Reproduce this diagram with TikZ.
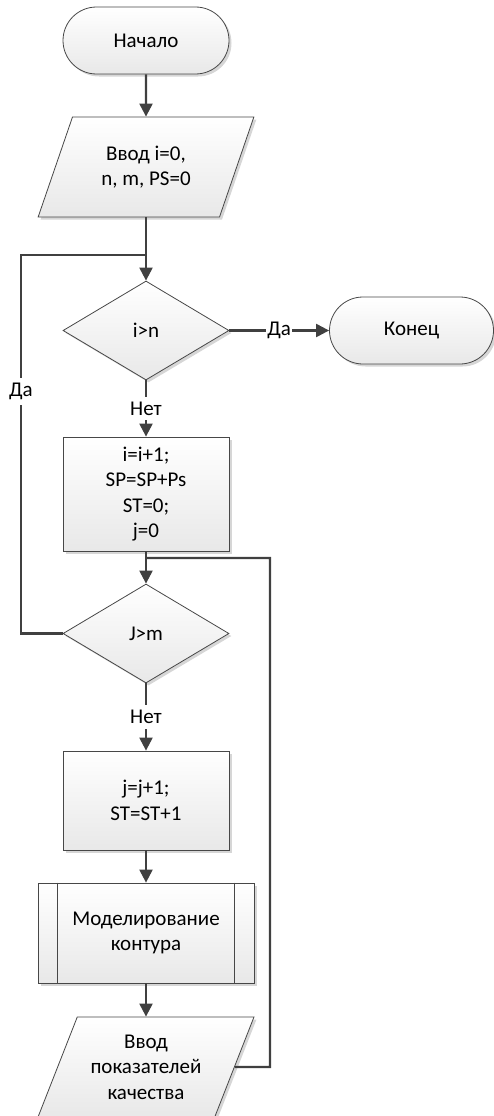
\documentclass[tikz,border=0pt]{standalone}
\usepackage{fontspec}
\setmainfont{Carlito}
\usetikzlibrary{shapes.geometric,shapes.misc,arrows.meta,shadows}
\begin{document}
\begin{tikzpicture}[x=1pt,y=-1pt,
  every node/.style={font=\fontsize{21}{25.5}\selectfont, text=black},
  box/.style={draw=black!72, line width=0.8pt, top color=white, bottom color=black!9,
    drop shadow={shadow xshift=2.5pt,shadow yshift=-2.5pt,fill=black!16,opacity=1},
    align=center, inner sep=0pt},
  term/.style={box, rounded rectangle, minimum width=166pt, minimum height=67pt},
  proc/.style={box, rectangle, minimum width=166pt},
  cond/.style={box, diamond, minimum width=166pt, minimum height=99pt},
  io/.style={box, trapezium, trapezium left angle=63.9, trapezium right angle=116.1,
    trapezium stretches=true, minimum width=216pt, minimum height=100pt},
  sub/.style={box, rectangle, minimum width=216pt, minimum height=100pt},
  conn/.style={draw=black!75, line width=2.2pt},
  arr/.style={conn, -{Triangle[length=13pt,width=13pt]}},
  lbl/.style={fill=white, inner xsep=1pt, inner ysep=5pt}
]
\useasboundingbox (0,0) rectangle (494,1116);

% blocks
\node[term] (start) at (146,40.5) {Начало};
\node[io] (inp) at (146,167) {Ввод i=0,\\n, m, PS=0};
\node[cond] (ci) at (146,330.5) {i>n};
\node[term, minimum width=164pt] (fin) at (411.5,330.5) {Конец};
\node[proc, minimum height=114pt] (init) at (146,494) {i=i+1;\\SP=SP+Ps\\ST=0;\\j=0};
\node[cond] (cj) at (146,633.5) {J>m};
\node[proc, minimum height=99pt] (inc) at (146,800.5) {j=j+1;\\ST=ST+1};
\node[sub] (model) at (146,933) {Моделирование\\контура};
\draw[black!72, line width=0.8pt] ([xshift=20pt]model.north west) -- ([xshift=20pt]model.south west)
  ([xshift=-20pt]model.north east) -- ([xshift=-20pt]model.south east);
\node[io] (res) at (146,1067) {Ввод\\показателей\\качества};

% junction points of the loops
\coordinate (jo) at (146,255);
\coordinate (ji) at (146,558);
\coordinate (lb) at (21,633.5);
\coordinate (lt) at (21,255);
\coordinate (rb) at (270,1067);
\coordinate (rt) at (270,558);

% connectors
\draw[arr] (start) -- (inp);
\draw[conn] (inp) -- (jo);
\draw[arr] (jo) -- (ci);
\draw[arr] (ci) -- node[lbl] {Да} (fin);
\draw[arr] (ci) -- node[lbl] {Нет} (init);
\draw[conn] (init) -- (ji);
\draw[arr] (ji) -- (cj);
\draw[arr] (cj) -- node[lbl] {Нет} (inc);
\draw[arr] (inc) -- (model);
\draw[arr] (model) -- (res);
\draw[conn, line join=miter] (cj.west) -- (lb) -- node[lbl, pos=0.639] {Да} (lt) -- (jo);
\draw[conn, line join=miter] (res.east) -- (rb) -- (rt) -- (ji);
\end{tikzpicture}
\end{document}
